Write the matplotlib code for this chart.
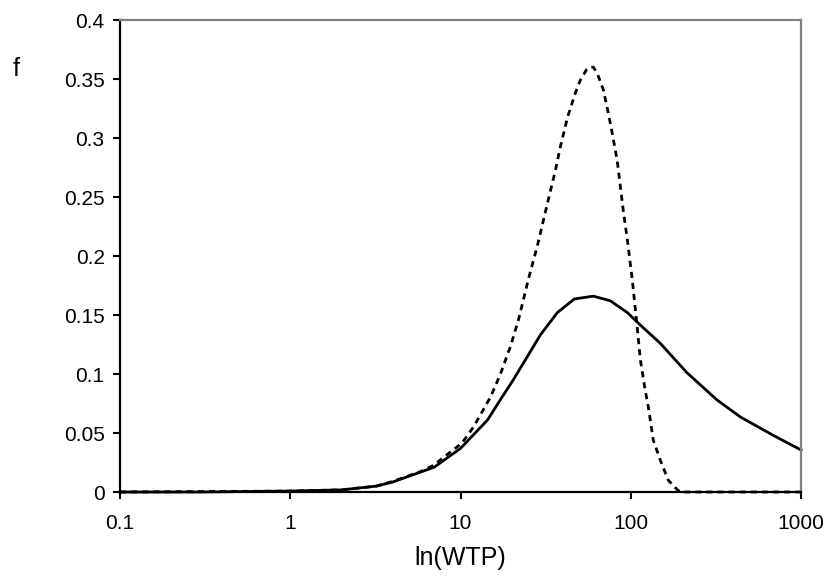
import numpy as np
import matplotlib
matplotlib.use("Agg")
import matplotlib.pyplot as plt

plt.rcParams['font.family'] = ['Liberation Sans', 'DejaVu Sans']

# solid curve
wtp_solid = [0.1, 0.3, 1, 2, 3.2, 4, 5, 7, 10, 14.4, 17.1, 20.4, 24.5, 29.4, 37,
             46.6, 60.3, 75.9, 95.5, 113.8, 149, 214, 321, 440, 687, 1000]
f_solid = [0, 0, 0.0008, 0.0018, 0.005, 0.0085, 0.0135, 0.021, 0.037, 0.061,
           0.078, 0.095, 0.114, 0.133, 0.152, 0.1636, 0.166, 0.162, 0.152,
           0.1415, 0.126, 0.101, 0.078, 0.0636, 0.048, 0.0356]

# dashed curve
wtp_dash = [0.1, 1, 2, 3.2, 4, 5, 6, 7, 8, 10.2, 11.9, 15, 17.1, 19.6, 21.9, 25,
            28.2, 32.3, 36, 38.5, 42.4, 47.2, 50.5, 55, 57.8, 60.3, 63.5, 68.9,
            73.8, 77.8, 83.2, 90.4, 95.5, 102, 107.6, 113.8, 121.6, 126.8,
            135.5, 149, 166, 187.5, 195, 1000]
f_dash = [0, 0.0008, 0.0018, 0.005, 0.009, 0.014, 0.018, 0.023, 0.0297, 0.0415,
          0.055, 0.0805, 0.0995, 0.123, 0.146, 0.18, 0.208, 0.244, 0.272, 0.292,
          0.317, 0.338, 0.349, 0.358, 0.36, 0.36, 0.355, 0.341, 0.321, 0.304,
          0.281, 0.238, 0.2136, 0.18, 0.148, 0.112, 0.086, 0.072, 0.044, 0.027,
          0.010, 0.002, 0, 0]

xticks = [0.1, 1, 10, 100, 1000]
xticklabels = ['0.1', '1', '10', '100', '1000']
yticks = [0, 0.05, 0.1, 0.15, 0.2, 0.25, 0.3, 0.35, 0.4]
yticklabels = ['0', '0.05', '0.1', '0.15', '0.2', '0.25', '0.3', '0.35', '0.4']

fig = plt.figure(figsize=(8.26, 5.8), dpi=100)
ax = fig.add_axes([0.1453, 0.1517, 0.8245, 0.8138])

ax.plot(wtp_solid, f_solid, color='black', lw=2.0, clip_on=False)
ax.plot(wtp_dash, f_dash, color='black', lw=2.0, linestyle=(0, (2.2, 1.8)),
        clip_on=False)

ax.set_xscale('log')
ax.set_xlim(0.1, 1000)
ax.set_ylim(0, 0.4)
ax.minorticks_off()
ax.set_xticks(xticks)
ax.set_xticklabels(xticklabels)
ax.set_yticks(yticks)
ax.set_yticklabels(yticklabels)

ax.tick_params(axis='both', direction='out', length=5, width=1.5,
               labelsize=15, color='black')
ax.tick_params(axis='x', pad=11)
ax.tick_params(axis='y', pad=6)

for s in ['left', 'bottom']:
    ax.spines[s].set_color('black')
    ax.spines[s].set_linewidth(1.6)
for s in ['top', 'right']:
    ax.spines[s].set_color('#808080')
    ax.spines[s].set_linewidth(1.6)

ax.set_xlabel('ln(WTP)', fontsize=18, labelpad=9)
fig.text(16 / 826, 1 - 69 / 580, 'f', fontsize=18, ha='center', va='center')

fig.savefig('out.png', dpi=100)
